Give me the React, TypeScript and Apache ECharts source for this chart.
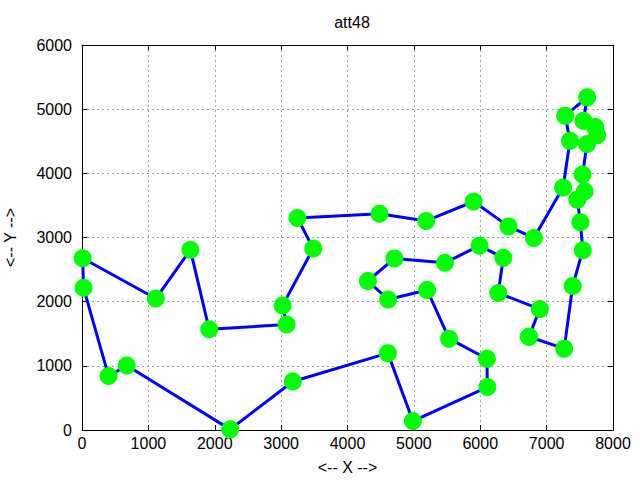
import React, { useEffect, useRef } from "react";
import * as echarts from "echarts";

const cityX = [6734, 2233, 5530, 401, 3082, 7608, 7573, 7265, 6898, 1112, 5468, 5989, 4706, 4612, 6347, 6107, 7611, 7462, 7732, 5900, 4483, 6101, 5199, 1633, 4307, 675, 7555, 7541, 3177, 7352, 7545, 3245, 6426, 4608, 23, 7248, 7762, 7392, 3484, 6271, 4985, 1916, 7280, 7509, 10, 6807, 5185, 3023];
const cityY = [1453, 10, 1424, 841, 1644, 4458, 3716, 1268, 1885, 2049, 2606, 2873, 2674, 2035, 2683, 669, 5184, 3590, 4723, 3561, 3369, 1110, 2182, 2809, 2322, 1006, 4819, 3981, 756, 4506, 2801, 3305, 3173, 1198, 2216, 3779, 4595, 2244, 2829, 2135, 140, 1569, 4899, 3239, 2676, 2993, 3258, 1942];
const tour = [1, 8, 38, 31, 44, 18, 7, 28, 6, 37, 19, 27, 17, 43, 30, 36, 46, 33, 20, 47, 21, 32, 39, 48, 5, 42, 24, 10, 45, 35, 4, 26, 2, 29, 34, 41, 16, 22, 3, 23, 14, 25, 13, 11, 12, 15, 40, 9, 1];
const xTicks = [0, 8000, 1000];
const yTicks = [0, 6000, 1000];

export default function App() {
  const ref = useRef<HTMLDivElement>(null);
  useEffect(() => {
    if (!ref.current) return;
    const chart = echarts.init(ref.current, null, { renderer: "svg" });
    const pts = tour.map((c) => [cityX[c - 1], cityY[c - 1]]);
    const font = "Liberation Sans, Arial, sans-serif";
    const fmt = (v: number) => String(v);
    const baseAxis = {
      axisLine: { show: true, onZero: false, lineStyle: { color: "#000", width: 1 } },
      axisTick: { show: true, inside: true, length: 5, lineStyle: { color: "#000" } },
    };
    chart.setOption({
      animation: false,
      backgroundColor: "#fff",
      title: {
        text: "att48",
        left: 347,
        top: 9,
        textAlign: "center",
        textStyle: { fontFamily: font, fontSize: 16, fontWeight: "normal", color: "#000" },
      },
      grid: { left: 82, top: 45, width: 531, height: 385, containLabel: false, outerBoundsMode: "none" },
      xAxis: [
        {
          ...baseAxis,
          type: "value",
          min: xTicks[0],
          max: xTicks[1],
          interval: xTicks[2],
          position: "bottom",
          name: "<-- X -->",
          nameLocation: "middle",
          nameGap: 29,
          nameTextStyle: { fontFamily: font, fontSize: 16, color: "#000" },
          axisLabel: { fontFamily: font, fontSize: 16, color: "#000", margin: 5, formatter: fmt },
          splitLine: { show: true, lineStyle: { color: "#a0a0a0", type: [2, 3], width: 1 } },
        },
        {
          ...baseAxis,
          type: "value",
          min: xTicks[0],
          max: xTicks[1],
          interval: xTicks[2],
          position: "top",
          axisLabel: { show: false },
          splitLine: { show: false },
        },
      ],
      yAxis: [
        {
          ...baseAxis,
          type: "value",
          min: yTicks[0],
          max: yTicks[1],
          interval: yTicks[2],
          position: "left",
          name: "<-- Y -->",
          nameLocation: "middle",
          nameGap: 64,
          nameRotate: 90,
          nameTextStyle: { fontFamily: font, fontSize: 16, color: "#000" },
          axisLabel: { fontFamily: font, fontSize: 16, color: "#000", margin: 10, formatter: fmt },
          splitLine: { show: true, lineStyle: { color: "#a0a0a0", type: [2, 3], width: 1 } },
        },
        {
          ...baseAxis,
          type: "value",
          min: yTicks[0],
          max: yTicks[1],
          interval: yTicks[2],
          position: "right",
          axisLabel: { show: false },
          splitLine: { show: false },
        },
      ],
      series: [
        {
          type: "line",
          data: pts,
          xAxisIndex: 0,
          yAxisIndex: 0,
          symbol: "circle",
          symbolSize: 18,
          showSymbol: true,
          lineStyle: { color: "#0000ff", width: 3 },
          itemStyle: { color: "#00ff00", borderWidth: 0 },
          clip: false,
          z: 3,
        },
      ],
    });
    return () => chart.dispose();
  }, []);
  return (
    <div
      ref={ref}
      style={{ position: "fixed", left: 0, top: 0, width: 640, height: 480, background: "#fff" }}
    />
  );
}
